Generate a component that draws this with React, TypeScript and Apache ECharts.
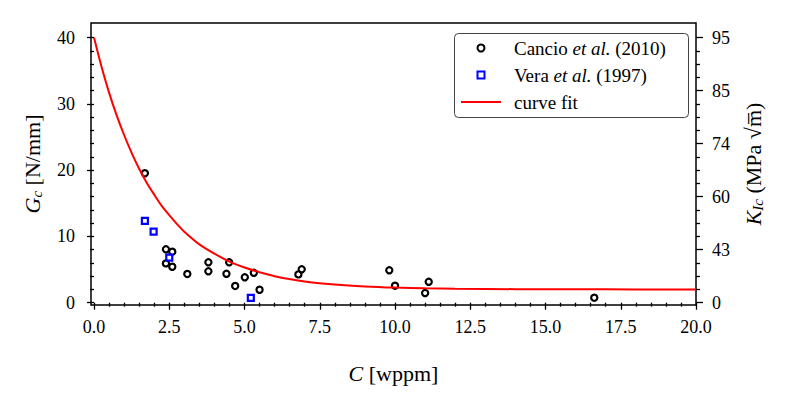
import React, { useEffect, useRef } from 'react';
import * as echarts from 'echarts';

// Cancio et al. (2010): hydrogen concentration C [wppm] vs Gc [N/mm]
const cancioC = [1.69, 2.39, 2.60, 2.39, 2.60, 3.10, 3.80, 3.80, 4.40, 4.49, 4.69, 5.01, 5.31, 5.50, 6.79, 6.90, 9.81, 10.0, 11.0, 11.12, 16.62];
const cancioG = [19.53, 8.06, 7.70, 5.93, 5.42, 4.33, 6.09, 4.73, 4.36, 6.09, 2.52, 3.83, 4.51, 1.95, 4.27, 5.03, 4.88, 2.56, 1.45, 3.15, 0.75];

// Vera et al. (1997)
const veraC = [1.69, 1.98, 2.50, 5.21];
const veraG = [12.33, 10.72, 6.79, 0.71];

// curve fit
const fitC = [0, 0.25, 0.5, 0.75, 1, 1.25, 1.5, 1.75, 2, 2.25, 2.5, 2.75, 3, 3.5, 4, 4.5, 5, 5.5, 6, 7, 8, 9, 10, 11, 12, 14, 16, 18, 20];
const fitG = [40.0, 35.6, 31.7, 28.3, 25.3, 22.6, 20.2, 18.1, 16.3, 14.6, 13.2, 11.9, 10.7, 8.8, 7.4, 6.2, 5.3, 4.6, 4.0, 3.2, 2.75, 2.46, 2.28, 2.17, 2.1, 2.04, 2.02, 2.0, 2.0];

const xTickValues = [0, 2.5, 5, 7.5, 10, 12.5, 15, 17.5, 20];
const xTickLabels = ['0.0', '2.5', '5.0', '7.5', '10.0', '12.5', '15.0', '17.5', '20.0'];
const gTickValues = [0, 10, 20, 30, 40];
const gTickLabels = ['0', '10', '20', '30', '40'];
const kTickPositions = [0, 8, 16, 24, 32, 40];
const kTickLabels = ['0', '43', '60', '74', '85', '95'];

const seriesNames = ['Cancio et al. (2010)', 'Vera et al. (1997)', 'curve fit'];

const FONT = "'Liberation Serif', 'DejaVu Serif', serif";

function range(start: number, end: number, step: number, skip: number[]) {
  const out: number[] = [];
  for (let v = start; v <= end + 1e-9; v += step) {
    const r = Math.round(v * 1000) / 1000;
    if (!skip.some((s) => Math.abs(s - r) < 1e-6)) out.push(r);
  }
  return out;
}

export default function App() {
  const ref = useRef<HTMLDivElement>(null);
  useEffect(() => {
    if (!ref.current) return;
    const chart = echarts.init(ref.current, null, { renderer: 'svg' });
    const xMinor = range(0, 20, 0.5, xTickValues);
    const gMinor = range(0, 40, 2, gTickValues);
    const kMinor = range(0, 40, 2, kTickPositions);
    const xMin = -0.1, xMax = 20, yMin = -0.35, yMax = 42.2;
    const tickLine = { color: '#000', width: 1.3 };
    const labelStyle = { fontFamily: FONT, fontSize: 18, color: '#000' };
    const minorAxis = (values: number[]) => ({
      axisLine: { show: false },
      axisLabel: { show: false },
      splitLine: { show: false },
      axisTick: { show: true, customValues: values, length: 4, inside: false, lineStyle: tickLine },
    });
    const nameRich = {
      i: { fontFamily: FONT, fontSize: 22, fontStyle: 'italic', color: '#000', lineHeight: 24 },
      s: { fontFamily: FONT, fontSize: 15, fontStyle: 'italic', color: '#000', lineHeight: 14, verticalAlign: 'bottom' },
    };
    chart.setOption({
      animation: false,
      backgroundColor: '#fff',
      grid: { left: 91, right: 92, top: 23, bottom: 89, show: true, borderColor: '#000', borderWidth: 1.5, backgroundColor: 'transparent' },
      xAxis: [
        {
          type: 'value', min: xMin, max: xMax, position: 'bottom',
          axisLine: { show: false },
          splitLine: { show: false },
          axisTick: { show: true, customValues: xTickValues, length: 7, lineStyle: tickLine },
          axisLabel: {
            ...labelStyle, margin: 13, customValues: xTickValues,
            formatter: (v: number) => xTickLabels[xTickValues.indexOf(v)] ?? '',
          },
          name: '{i|C} [wppm]', nameLocation: 'middle', nameGap: 56,
          nameTextStyle: { fontFamily: FONT, fontSize: 22, color: '#000', rich: nameRich },
        },
        { type: 'value', min: xMin, max: xMax, position: 'bottom', ...minorAxis(xMinor) },
      ],
      yAxis: [
        {
          type: 'value', min: yMin, max: yMax, position: 'left',
          axisLine: { show: false },
          splitLine: { show: false },
          axisTick: { show: true, customValues: gTickValues, length: 7, lineStyle: tickLine },
          axisLabel: {
            ...labelStyle, margin: 16, customValues: gTickValues,
            formatter: (v: number) => gTickLabels[gTickValues.indexOf(v)] ?? '',
          },
          name: '{i|G}{s|c} [N/mm]', nameLocation: 'middle', nameGap: 47, nameRotate: 90,
          nameTextStyle: { fontFamily: FONT, fontSize: 22, color: '#000', rich: nameRich },
        },
        { type: 'value', min: yMin, max: yMax, position: 'left', ...minorAxis(gMinor) },
        {
          type: 'value', min: yMin, max: yMax, position: 'right',
          axisLine: { show: false },
          splitLine: { show: false },
          axisTick: { show: true, customValues: kTickPositions, length: 7, lineStyle: tickLine },
          axisLabel: {
            ...labelStyle, margin: 16, customValues: kTickPositions,
            formatter: (v: number) => kTickLabels[kTickPositions.indexOf(v)] ?? '',
          },
          name: '{i|K}{s|Ic} (MPa √m\u0305)', nameLocation: 'middle', nameGap: 45, nameRotate: 90,
          nameTextStyle: { fontFamily: FONT, fontSize: 22, color: '#000', rich: nameRich },
        },
        { type: 'value', min: yMin, max: yMax, position: 'right', ...minorAxis(kMinor) },
      ],
      graphic: [
        {
          type: 'rect', z: 3, left: 454, top: 33,
          shape: { width: 234, height: 84, r: 4 },
          style: { fill: '#fff', stroke: '#444', lineWidth: 1 },
        },
      ],
      legend: {
        orient: 'vertical', left: 460, top: 38, padding: 0, itemGap: 7,
        itemWidth: 40, itemHeight: 7, z: 5,
        data: [
          { name: seriesNames[0], icon: 'circle' },
          { name: seriesNames[1], icon: 'path://M0,0H10V10H0Z' },
          { name: seriesNames[2], itemStyle: { color: 'rgba(0,0,0,0)', borderColor: 'rgba(0,0,0,0)', borderWidth: 0 } },
        ],
        formatter: (name: string) => name.replace('et al.', '{i|et al.}'),
        textStyle: {
          fontFamily: FONT, fontSize: 19, color: '#000', lineHeight: 20, padding: [0, 0, 0, 8],
          rich: { i: { fontFamily: FONT, fontSize: 19, fontStyle: 'italic', color: '#000', lineHeight: 20 } },
        },
      },
      series: [
        {
          name: seriesNames[0], type: 'scatter', xAxisIndex: 0, yAxisIndex: 0, z: 2,
          symbol: 'circle', symbolSize: 6.2,
          itemStyle: { color: 'rgba(0,0,0,0)', borderColor: '#000', borderWidth: 2.2, opacity: 1 },
          data: cancioC.map((c, i) => [c, cancioG[i]]),
        },
        {
          name: seriesNames[1], type: 'scatter', xAxisIndex: 0, yAxisIndex: 0, z: 2,
          symbol: 'rect', symbolSize: 6,
          itemStyle: { color: 'rgba(0,0,0,0)', borderColor: '#0000ff', borderWidth: 2.2, opacity: 1 },
          data: veraC.map((c, i) => [c, veraG[i]]),
        },
        {
          name: seriesNames[2], type: 'line', xAxisIndex: 0, yAxisIndex: 0, z: 3,
          symbol: 'none', smooth: 0.3,
          lineStyle: { color: '#ff0000', width: 2 },
          itemStyle: { color: '#ff0000' },
          data: fitC.map((c, i) => [c, fitG[i]]),
        },
      ],
    });
    return () => chart.dispose();
  }, []);
  return <div ref={ref} style={{ position: 'fixed', left: 0, top: 0, width: 788, height: 394 }} />;
}
